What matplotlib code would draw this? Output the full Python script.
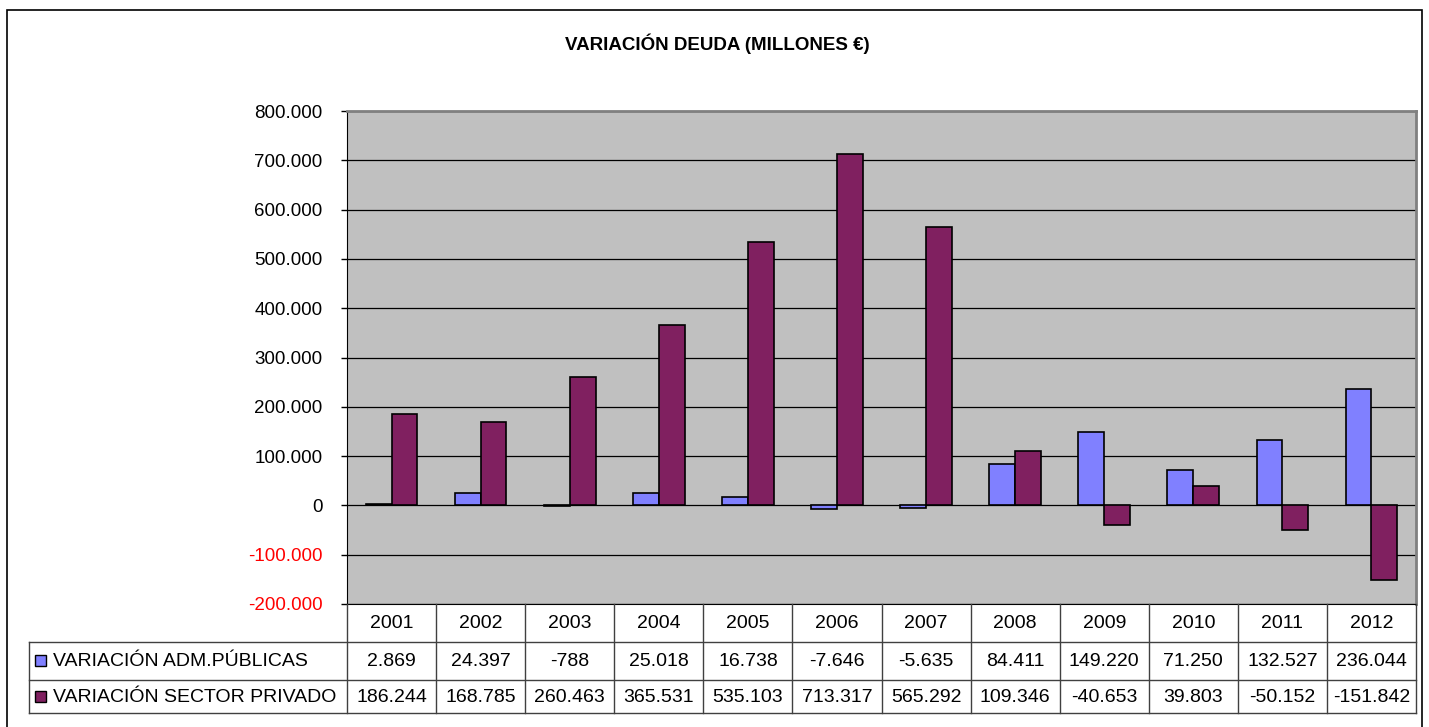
import matplotlib
matplotlib.use("Agg")
import matplotlib.pyplot as plt
import matplotlib.transforms as mtransforms
from matplotlib.patches import Rectangle
from matplotlib.lines import Line2D
import numpy as np

years = ["2001", "2002", "2003", "2004", "2005", "2006",
         "2007", "2008", "2009", "2010", "2011", "2012"]
adm_publicas = [2869, 24397, -788, 25018, 16738, -7646,
                -5635, 84411, 149220, 71250, 132527, 236044]
sector_privado = [186244, 168785, 260463, 365531, 535103, 713317,
                  565292, 109346, -40653, 39803, -50152, -151842]
series_names = ["VARIACIÓN ADM.PÚBLICAS", "VARIACIÓN SECTOR PRIVADO"]
series_colors = ["#8080FF", "#802060"]
yticks = [-200000, -100000, 0, 100000, 200000, 300000,
          400000, 500000, 600000, 700000, 800000]

W, H = 1429, 727
plt.rcParams['font.family'] = ['Liberation Sans', 'DejaVu Sans']


def fmt(v):
    s = "{:,}".format(abs(int(v))).replace(",", ".")
    return "-" + s if v < 0 else s


def fy(py):
    # pixel row from top -> figure fraction
    return 1 - py / H


fig = plt.figure(figsize=(W / 100, H / 100), dpi=100)
fig.patch.set_facecolor("white")

# outer chart frame
fig.add_artist(Rectangle((7 / W, fy(740)), (1422 - 7) / W, (740 - 10) / H,
                         transform=fig.transFigure, fill=False,
                         edgecolor="black", lw=1.2))

left, right, top, bottom = 347, 1416, 111, 604
ax = fig.add_axes([left / W, fy(bottom), (right - left) / W, (bottom - top) / H])
ax.set_facecolor("#C0C0C0")

x = np.arange(len(years))
bw = 0.29
ax.bar(x - bw / 2, adm_publicas, bw, color=series_colors[0],
       edgecolor="black", lw=1.2, zorder=3)
ax.bar(x + bw / 2, sector_privado, bw, color=series_colors[1],
       edgecolor="black", lw=1.2, zorder=3)

ax.set_xlim(-0.5, len(years) - 0.5)
ax.set_ylim(-200000, 800000)
ax.set_yticks(yticks)
ax.set_yticklabels([fmt(v) for v in yticks], fontsize=13.5)
for lab, v in zip(ax.get_yticklabels(), yticks):
    lab.set_color("red" if v < 0 else "black")
ax.tick_params(axis="y", length=4.5, width=1, pad=13)
ax.set_xticks([])
ax.grid(axis="y", color="black", lw=0.9, zorder=1)
ax.set_axisbelow(True)
for side in ["top", "right"]:
    ax.spines[side].set_color("#808080")
    ax.spines[side].set_linewidth(2)
ax.spines["left"].set_color("black")
ax.spines["bottom"].set_color("black")

fig.text(717 / W, fy(44), "VARIACIÓN DEUDA (MILLONES €)", ha="center",
         va="center", fontsize=13.5, fontweight="bold")

# data table under the plot
tr = mtransforms.blended_transform_factory(ax.transData, fig.transFigure)
rows = [604, 642, 680, 713]
tab_left = 29
lc = "#404040"
for i in range(len(years) + 1):
    fig.add_artist(Line2D([i - 0.5, i - 0.5], [fy(rows[0]), fy(rows[3])],
                          transform=tr, color=lc, lw=1))
for r in rows[1:]:
    fig.add_artist(Line2D([tab_left / W, right / W], [fy(r), fy(r)],
                          transform=fig.transFigure, color=lc, lw=1))
fig.add_artist(Line2D([tab_left / W, tab_left / W], [fy(rows[1]), fy(rows[3])],
                      transform=fig.transFigure, color=lc, lw=1))

for i, yr in enumerate(years):
    fig.text(i, fy(623), yr, transform=tr, ha="center", va="center", fontsize=14)
    fig.text(i, fy(661), fmt(adm_publicas[i]), transform=tr, ha="center",
             va="center", fontsize=14)
    fig.text(i, fy(697), fmt(sector_privado[i]), transform=tr, ha="center",
             va="center", fontsize=14)

for name, col, yc in zip(series_names, series_colors, [661, 697]):
    fig.add_artist(Rectangle((35 / W, fy(yc + 5)), 11 / W, 11 / H,
                             transform=fig.transFigure, facecolor=col,
                             edgecolor="black", lw=1))
    fig.text(53 / W, fy(yc), name, ha="left", va="center", fontsize=14)

fig.savefig("out.png", dpi=100)
